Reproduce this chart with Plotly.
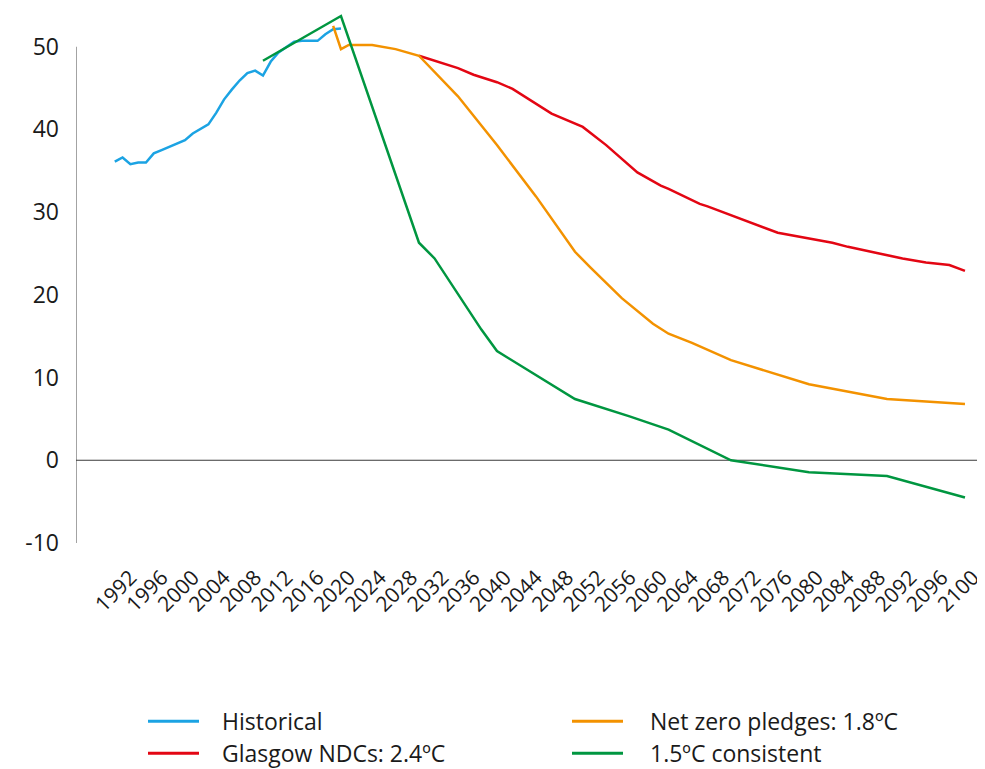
import plotly.graph_objects as go

# ---- data ----
hist_years = list(range(1991, 2021))
hist_vals = [36.1, 36.6, 35.8, 36.0, 36.0, 37.1, 37.5, 37.9, 38.3, 38.7,
             39.5, 40.0, 40.6, 42.0, 43.6, 44.8, 45.9, 46.8, 47.1, 46.5,
             48.2, 49.3, 49.9, 50.6, 50.7, 50.7, 50.7, 51.5, 52.1, 52.2]

ndc_years = [2030, 2035, 2037, 2040, 2042, 2047, 2051, 2054, 2058, 2061,
             2062, 2066, 2067, 2071, 2076, 2083, 2085, 2089, 2092, 2095,
             2098, 2100]
ndc_vals = [48.9, 47.4, 46.6, 45.7, 44.9, 41.9, 40.3, 38.1, 34.8, 33.2,
            32.8, 31.0, 30.7, 29.3, 27.5, 26.3, 25.8, 25.0, 24.4, 23.9,
            23.6, 22.9]

nz_years = [2019, 2020, 2021, 2024, 2027, 2030, 2035, 2040, 2045, 2050,
            2052, 2056, 2060, 2062, 2065, 2070, 2080, 2090, 2100]
nz_vals = [52.5, 49.7, 50.2, 50.2, 49.7, 48.9, 44.0, 38.1, 31.9, 25.2,
           23.3, 19.6, 16.5, 15.3, 14.2, 12.1, 9.2, 7.4, 6.8]

c15_years = [2010, 2020, 2030, 2032, 2038, 2040, 2050, 2057, 2062, 2066,
             2070, 2080, 2090, 2100]
c15_vals = [48.3, 53.7, 26.3, 24.4, 15.8, 13.2, 7.4, 5.3, 3.7, 1.9,
            0.0, -1.45, -1.9, -4.5]

x_ticks = list(range(1992, 2101, 4))
y_ticks = [-10, 0, 10, 20, 30, 40, 50]

series = [
    ("Historical", "#1BA3E3", hist_years, hist_vals),
    ("Glasgow NDCs: 2.4ºC", "#E30613", ndc_years, ndc_vals),
    ("Net zero pledges: 1.8ºC", "#F39200", nz_years, nz_vals),
    ("1.5ºC consistent", "#009640", c15_years, c15_vals),
]
# legend layout: (column, row) for each series name
legend_pos = {"Historical": (0, 0), "Net zero pledges: 1.8ºC": (1, 0),
              "Glasgow NDCs: 2.4ºC": (0, 1), "1.5ºC consistent": (1, 1)}

FONT = "Open Sans"
X0, X1 = 1986.03, 2101.67
Y0, Y1 = -10, 54.43
W, H = 977, 761
ML, MR, MT, MB = 68, 7, 2, 225.5
PW, PH = W - ML - MR, H - MT - MB

fig = go.Figure()
for name, color, xs, ys in series:
    fig.add_trace(go.Scatter(x=xs, y=ys, mode="lines", name=name,
                             line=dict(color=color, width=2.5), showlegend=False))

# y axis line (only from -10 to 50) and zero line
fig.add_shape(type="line", xref="x", yref="y", x0=X0, x1=X0, y0=-10, y1=50,
              line=dict(color="#858585", width=1.5), layer="below")
fig.add_shape(type="line", xref="x", yref="y", x0=X0, x1=X1, y0=0, y1=0,
              line=dict(color="#3a3a3a", width=1.2), layer="below")

# legend (two columns), built in paper coordinates
col_line_x = [140, 564]
col_text_x = [212, 640]
row_y = [714, 746]
def px(xp):
    return (xp - ML) / PW
def py(yp):
    return (H - MB - yp) / PH
for name, color, xs, ys in series:
    c, r = legend_pos[name]
    fig.add_shape(type="line", xref="paper", yref="paper",
                  x0=px(col_line_x[c]), x1=px(col_line_x[c] + 51),
                  y0=py(row_y[r]), y1=py(row_y[r]),
                  line=dict(color=color, width=3))
    fig.add_annotation(xref="paper", yref="paper", x=px(col_text_x[c]), y=py(row_y[r]),
                       text=name, showarrow=False, xanchor="left", yanchor="middle",
                       font=dict(family=FONT, size=23, color="#1a1a1a"))

fig.update_layout(
    width=W, height=H,
    margin=dict(l=ML, r=MR, t=MT, b=MB, autoexpand=False),
    paper_bgcolor="white", plot_bgcolor="white",
    font=dict(family=FONT, size=22, color="#1a1a1a"),
    showlegend=False,
)
fig.update_xaxes(range=[X0, X1], tickmode="array", tickvals=x_ticks,
                 ticktext=[str(v) for v in x_ticks], tickangle=-45,
                 showgrid=False, zeroline=False, showline=False, ticks="",
                 tickfont=dict(family=FONT, size=21, color="#1a1a1a"),
                 ticklabelstandoff=17, ticklabelshift=8,
                 ticklabeloverflow="allow", automargin=False)
fig.update_yaxes(range=[Y0, Y1], tickmode="array", tickvals=y_ticks,
                 ticktext=[str(v) for v in y_ticks],
                 showgrid=False, zeroline=False, showline=False, ticks="",
                 tickfont=dict(family=FONT, size=23, color="#1a1a1a"),
                 ticklabelstandoff=16, automargin=False)

fig.write_html("out.html")
